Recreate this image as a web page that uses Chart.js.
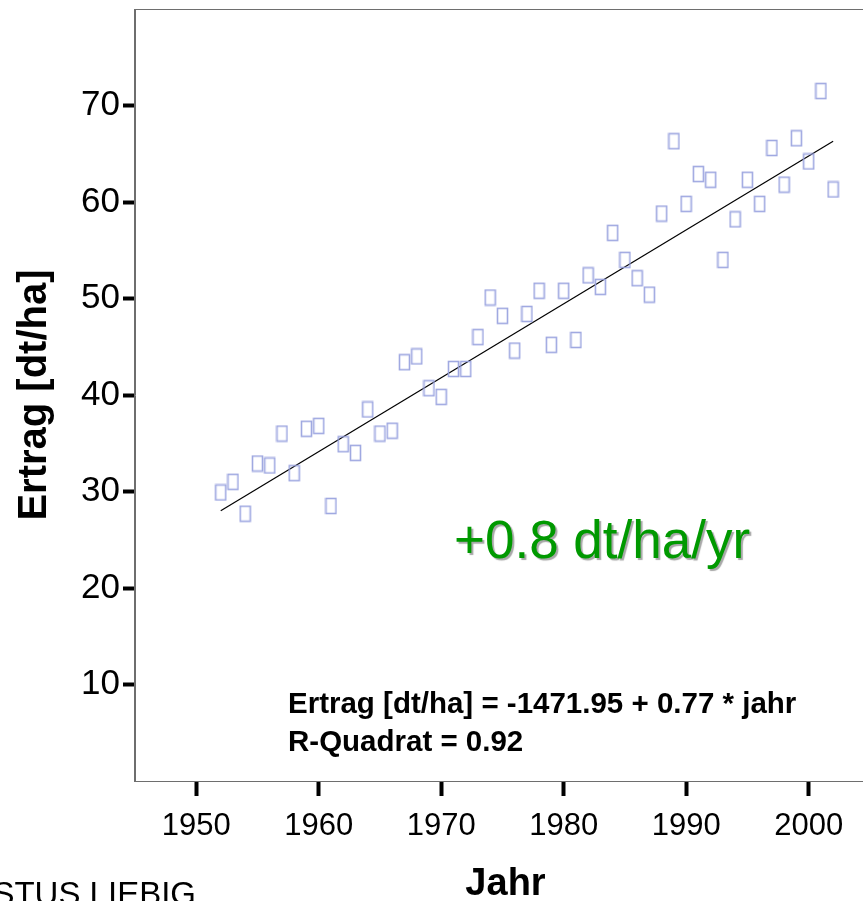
<!DOCTYPE html>
<html>
<head>
<meta charset="utf-8">
<script src="https://cdn.jsdelivr.net/npm/chart.js@4.4.1/dist/chart.umd.min.js"></script>
<style>
html, body { margin: 0; padding: 0; background: #fff; overflow: hidden; }
#wrap { position: relative; width: 884px; height: 901px; }
</style>
</head>
<body>
<div id="wrap"><canvas id="ertragChart" width="884" height="901"></canvas></div>
<script>
const years = [1952, 1953, 1954, 1955, 1956, 1957, 1958, 1959, 1960, 1961,
    1962, 1963, 1964, 1965, 1966, 1967, 1968, 1969, 1970, 1971,
    1972, 1973, 1974, 1975, 1976, 1977, 1978, 1979, 1980, 1981,
    1982, 1983, 1984, 1985, 1986, 1987, 1988, 1989, 1990, 1991,
    1992, 1993, 1994, 1995, 1996, 1997, 1998, 1999, 2000, 2001, 2002];
const ertrag = [29.9, 31.0, 27.7, 32.9, 32.7, 36.0, 31.9, 36.5, 36.8, 28.5,
    34.9, 34.0, 38.5, 36.0, 36.3, 43.4, 44.0, 40.7, 39.8, 42.7,
    42.7, 46.0, 50.1, 48.2, 44.6, 48.4, 50.8, 45.2, 50.8, 45.7,
    52.4, 51.2, 56.8, 54.0, 52.1, 50.4, 58.8, 66.3, 59.8, 62.9,
    62.3, 54.0, 58.2, 62.3, 59.8, 65.6, 61.8, 66.6, 64.2, 71.5, 61.3];
const trendYears = [1952, 2002];
const trendValues = [28.0, 66.3];
const xTicks = [1950, 1960, 1970, 1980, 1990, 2000];
const yTicks = [10, 20, 30, 40, 50, 60, 70];

const FONT = "'Liberation Sans', Arial, Helvetica, sans-serif";

// hollow box marker (the "missing glyph" box of the original)
function makeBoxMarker() {
    const c = document.createElement("canvas");
    c.width = 13;
    c.height = 18;
    const g = c.getContext("2d");
    g.strokeStyle = "rgba(150,160,222,0.9)";
    g.lineWidth = 1.6;
    g.strokeRect(1.5, 1.5, 10, 15);
    return c;
}

const framePlugin = {
    id: "frame",
    afterDraw(chart) {
        const { ctx, chartArea: a } = chart;
        ctx.save();
        ctx.strokeStyle = "#6e6e6e";
        ctx.lineWidth = 1;
        ctx.strokeRect(a.left - 0.5, a.top + 0.5, a.right - a.left + 1, a.bottom - a.top);
        ctx.restore();
    }
};

const textPlugin = {
    id: "notes",
    afterDraw(chart) {
        const ctx = chart.ctx;
        ctx.save();
        ctx.textBaseline = "alphabetic";
        ctx.textAlign = "left";

        ctx.font = "53px " + FONT;
        ctx.shadowColor = "rgba(0,0,0,0.35)";
        ctx.shadowOffsetX = 2;
        ctx.shadowOffsetY = 2;
        ctx.shadowBlur = 1;
        ctx.fillStyle = "#009900";
        ctx.fillText("+0.8 dt/ha/yr", 454, 558);
        ctx.shadowColor = "transparent";

        ctx.fillStyle = "#000";
        ctx.font = "bold 29.5px " + FONT;
        ctx.fillText("Ertrag [dt/ha] = -1471.95 + 0.77 * jahr", 288, 713);
        ctx.fillText("R-Quadrat = 0.92", 288, 751);

        ctx.font = "33px " + FONT;
        ctx.textAlign = "right";
        ctx.fillText("JUSTUS LIEBIG", 196, 905);
        ctx.restore();
    }
};

const ctx = document.getElementById("ertragChart");

new Chart(ctx, {
    type: "scatter",
    data: {
        datasets: [
            {
                label: "Ertrag",
                data: years.map((y, i) => ({ x: y, y: ertrag[i] })),
                pointStyle: makeBoxMarker(),
                pointRadius: 7
            },
            {
                type: "line",
                label: "Trend",
                data: trendYears.map((y, i) => ({ x: y, y: trendValues[i] })),
                borderColor: "#000",
                borderWidth: 1.2,
                pointRadius: 0,
                fill: false
            }
        ]
    },
    options: {
        responsive: false,
        animation: false,
        layout: { padding: { top: 9, right: 3, left: 0, bottom: 0 } },
        plugins: {
            legend: { display: false },
            tooltip: { enabled: false }
        },
        scales: {
            x: {
                type: "linear",
                min: 1945,
                max: 2005.5,
                afterBuildTicks: (s) => { s.ticks = xTicks.map(v => ({ value: v })); },
                afterFit: (s) => { s.height = 120; s.paddingLeft = 0; s.paddingRight = 0; },
                border: { display: true, color: "#6e6e6e", width: 1 },
                grid: {
                    drawOnChartArea: false,
                    drawTicks: true,
                    tickLength: 15,
                    tickWidth: 4,
                    tickColor: "#000"
                },
                ticks: {
                    color: "#000",
                    padding: 12,
                    maxRotation: 0,
                    font: { family: FONT, size: 31 },
                    callback: (v) => String(v)
                },
                title: {
                    display: true,
                    text: "Jahr",
                    color: "#000",
                    font: { family: FONT, size: 38, weight: "bold", lineHeight: 0.85 },
                    padding: { top: 0, bottom: 0 }
                }
            },
            y: {
                min: 0,
                max: 80,
                afterBuildTicks: (s) => { s.ticks = yTicks.map(v => ({ value: v })); },
                afterFit: (s) => { s.width = 135; s.paddingTop = 0; s.paddingBottom = 0; },
                border: { display: true, color: "#6e6e6e", width: 1 },
                grid: {
                    drawOnChartArea: false,
                    drawTicks: true,
                    tickLength: 12,
                    tickWidth: 4,
                    tickColor: "#000"
                },
                ticks: {
                    color: "#000",
                    padding: 3,
                    font: { family: FONT, size: 35 }
                },
                title: {
                    display: true,
                    text: "Ertrag [dt/ha]",
                    color: "#000",
                    font: { family: FONT, size: 40, weight: "bold", lineHeight: 1.2 },
                    padding: { top: 11, bottom: 0 }
                }
            }
        }
    },
    plugins: [framePlugin, textPlugin]
});
</script>
</body>
</html>
